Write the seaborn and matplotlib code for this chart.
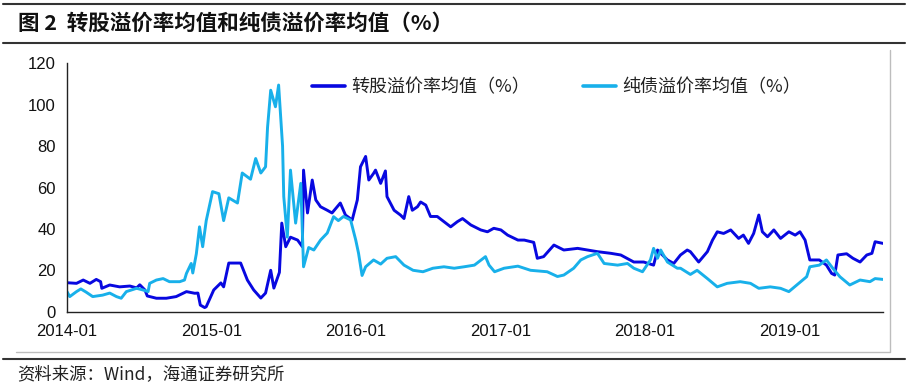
import matplotlib
matplotlib.use("Agg")
import matplotlib.pyplot as plt
import matplotlib.dates as mdates
from matplotlib.lines import Line2D
import seaborn as sns
import pandas as pd

# ---------------- data ----------------
cb_dates = [
    "2014-01-01", "2014-01-25", "2014-02-11", "2014-02-28", "2014-03-16", "2014-03-27", "2014-03-30",
    "2014-04-19", "2014-05-14", "2014-06-09", "2014-06-26", "2014-07-04", "2014-07-17", "2014-07-23",
    "2014-08-15", "2014-09-09", "2014-10-04", "2014-10-30", "2014-11-20", "2014-11-28", "2014-12-04",
    "2014-12-15", "2014-12-19", "2015-01-07", "2015-01-25", "2015-02-01", "2015-02-14", "2015-03-16",
    "2015-04-02", "2015-04-18", "2015-05-06", "2015-05-18", "2015-05-31", "2015-06-08", "2015-06-22",
    "2015-06-28", "2015-07-08", "2015-07-20", "2015-08-07", "2015-08-19", "2015-08-22", "2015-09-01",
    "2015-09-13", "2015-09-22", "2015-10-04", "2015-10-21", "2015-11-02", "2015-11-23", "2015-12-06",
    "2015-12-23", "2016-01-05", "2016-01-13", "2016-01-26", "2016-02-03", "2016-02-15", "2016-02-20",
    "2016-03-04", "2016-03-16", "2016-03-20", "2016-04-07", "2016-04-23", "2016-05-02", "2016-05-14",
    "2016-05-23", "2016-06-05", "2016-06-13", "2016-06-26", "2016-07-08", "2016-07-25", "2016-08-11",
    "2016-08-28", "2016-09-14", "2016-09-27", "2016-10-18", "2016-11-12", "2016-11-29", "2016-12-15",
    "2017-01-02", "2017-01-19", "2017-02-14", "2017-03-02", "2017-03-26", "2017-04-04", "2017-04-20",
    "2017-05-16", "2017-06-10", "2017-07-15", "2017-08-09", "2017-09-03", "2017-10-07", "2017-11-01",
    "2017-12-04", "2017-12-29", "2018-01-23", "2018-02-02", "2018-02-27", "2018-03-15", "2018-04-01",
    "2018-04-18", "2018-04-26", "2018-05-17", "2018-06-08", "2018-06-21", "2018-07-03", "2018-07-19",
    "2018-08-06", "2018-08-26", "2018-09-07", "2018-09-20", "2018-10-03", "2018-10-16", "2018-10-25",
    "2018-11-07", "2018-11-23", "2018-12-10", "2018-12-31", "2019-01-16", "2019-01-28", "2019-02-10",
    "2019-02-22", "2019-03-18", "2019-04-05", "2019-04-18", "2019-04-26", "2019-05-04", "2019-05-26",
    "2019-06-11", "2019-06-29", "2019-07-16", "2019-07-29", "2019-08-06", "2019-08-26",
]
cb_values = [
    14.0, 13.7, 15.3, 13.7, 15.6, 14.5, 11.3,
    12.9, 12.0, 12.4, 11.5, 13.0, 10.5, 7.6,
    6.5, 6.5, 7.3, 9.7, 8.9, 9.0, 3.2,
    2.0, 2.4, 10.5, 13.9, 12.0, 23.5, 23.5,
    15.3, 10.5, 6.6, 9.0, 20.0, 11.4, 19.0,
    42.8, 31.4, 36.0, 34.6, 31.4, 68.4, 47.7,
    63.6, 54.0, 50.7, 49.0, 47.7, 52.5, 46.7,
    44.3, 54.0, 70.0, 75.0, 63.6, 66.8, 68.4,
    62.0, 68.0, 55.6, 49.0, 46.7, 45.0, 55.6,
    49.0, 50.7, 53.0, 51.5, 46.0, 46.0, 43.5,
    41.0, 43.5, 45.0, 41.9, 39.5, 38.6, 40.3,
    39.5, 37.0, 34.6, 34.6, 33.5, 25.8, 26.6,
    32.2, 29.8, 30.6, 29.8, 29.0, 28.2, 27.4,
    24.0, 24.0, 22.5, 29.8, 25.0, 23.3, 27.4,
    29.8, 29.0, 24.0, 29.0, 34.6, 38.6, 37.8,
    39.5, 35.4, 37.0, 33.0, 37.8, 46.7, 38.6,
    36.2, 39.5, 35.4, 38.6, 37.0, 38.6, 34.6,
    25.0, 25.0, 22.5, 18.5, 17.7, 27.4, 28.0,
    25.8, 24.0, 27.4, 28.2, 33.8, 33.0,
]

bond_dates = [
    "2014-01-01", "2014-01-08", "2014-01-25", "2014-02-05", "2014-02-18", "2014-03-07", "2014-04-01",
    "2014-04-19", "2014-05-06", "2014-05-18", "2014-05-31", "2014-06-26", "2014-07-12", "2014-07-25",
    "2014-07-29", "2014-08-15", "2014-09-01", "2014-09-17", "2014-10-13", "2014-10-25", "2014-10-30",
    "2014-11-11", "2014-11-15", "2014-11-24", "2014-12-02", "2014-12-10", "2014-12-19", "2015-01-04",
    "2015-01-20", "2015-02-01", "2015-02-14", "2015-03-08", "2015-03-20", "2015-04-10", "2015-04-23",
    "2015-05-06", "2015-05-18", "2015-05-23", "2015-05-31", "2015-06-12", "2015-06-20", "2015-06-30",
    "2015-07-03", "2015-07-12", "2015-07-20", "2015-08-02", "2015-08-15", "2015-08-22", "2015-09-04",
    "2015-09-17", "2015-10-04", "2015-10-21", "2015-11-06", "2015-11-18", "2015-12-01", "2015-12-19",
    "2016-01-01", "2016-01-08", "2016-01-17", "2016-01-26", "2016-02-15", "2016-03-04", "2016-03-20",
    "2016-04-11", "2016-05-02", "2016-05-25", "2016-06-19", "2016-07-14", "2016-08-11", "2016-09-06",
    "2016-10-01", "2016-10-27", "2016-11-24", "2016-12-03", "2016-12-17", "2017-01-10", "2017-02-14",
    "2017-03-18", "2017-04-29", "2017-05-25", "2017-06-10", "2017-07-05", "2017-07-23", "2017-08-09",
    "2017-09-03", "2017-09-20", "2017-10-24", "2017-11-18", "2017-12-04", "2017-12-26", "2018-01-15",
    "2018-01-23", "2018-02-02", "2018-02-10", "2018-02-27", "2018-03-24", "2018-04-01", "2018-04-26",
    "2018-05-13", "2018-06-08", "2018-07-03", "2018-07-28", "2018-08-30", "2018-09-25", "2018-10-16",
    "2018-11-14", "2018-12-10", "2018-12-31", "2019-01-20", "2019-02-14", "2019-02-22", "2019-03-18",
    "2019-04-05", "2019-04-21", "2019-05-09", "2019-06-03", "2019-06-29", "2019-07-24", "2019-08-06",
    "2019-08-26",
]
bond_values = [
    9.7, 7.3, 9.7, 11.0, 9.5, 7.3, 8.0,
    9.0, 7.3, 6.5, 9.7, 11.3, 10.5, 9.7,
    13.7, 15.3, 16.0, 14.5, 14.5, 15.3, 18.5,
    23.3, 18.7, 28.0, 41.0, 31.4, 44.0, 58.0,
    57.0, 44.0, 55.0, 52.5, 67.0, 64.0, 74.0,
    67.0, 70.0, 89.0, 107.0, 99.0, 109.5, 80.0,
    55.6, 36.0, 68.4, 42.8, 62.0, 21.7, 31.0,
    29.8, 34.6, 38.0, 45.9, 44.0, 46.0, 44.3,
    34.6, 28.3, 17.5, 21.7, 25.0, 23.0, 25.8,
    26.6, 22.5, 20.0, 19.3, 21.0, 21.7, 21.0,
    21.7, 22.5, 26.6, 22.5, 19.3, 21.0, 22.0,
    20.0, 19.3, 17.0, 17.7, 21.0, 25.0, 26.6,
    28.2, 23.3, 22.5, 23.3, 21.0, 19.3, 25.0,
    30.6, 25.8, 29.8, 24.0, 21.0, 21.0, 18.0,
    20.0, 16.0, 12.0, 13.7, 14.5, 13.7, 11.3,
    12.0, 11.3, 9.7, 12.9, 16.9, 21.7, 22.5,
    25.0, 21.0, 16.9, 12.9, 15.3, 14.5, 16.0,
    15.6,
]

series_names = ["转股溢价率均值（%）", "纯债溢价率均值（%）"]
series_colors = ["#0808E0", "#18B0EA"]
x_ticks = ["2014-01-01", "2015-01-01", "2016-01-01", "2017-01-01", "2018-01-01", "2019-01-01"]
y_ticks = [0, 20, 40, 60, 80, 100, 120]
title_text = "图 2  转股溢价率均值和纯债溢价率均值（%）"
source_text = "资料来源：Wind，海通证券研究所"

# ---------------- build frame ----------------
df = pd.concat([
    pd.DataFrame({"date": pd.to_datetime(cb_dates), "value": cb_values, "series": series_names[0]}),
    pd.DataFrame({"date": pd.to_datetime(bond_dates), "value": bond_values, "series": series_names[1]}),
], ignore_index=True)

sns.set_style("white")
plt.rcParams["font.family"] = ["Liberation Sans", "Noto Sans CJK SC", "DejaVu Sans"]
cjk = ["Noto Sans CJK SC", "DejaVu Sans"]

W, H = 911, 389
fig = plt.figure(figsize=(W / 100, H / 100), dpi=100)
ax = fig.add_axes([67 / W, 1 - 311.7 / H, (883 - 67) / W, (311.7 - 63.3) / H])

sns.lineplot(data=df, x="date", y="value", hue="series", hue_order=series_names,
             palette=series_colors, linewidth=2.1, ax=ax, legend=False, estimator=None, sort=True)

ax.set_xlim(pd.Timestamp(cb_dates[0]), pd.Timestamp(cb_dates[-1]))
ax.set_ylim(0, 120)
ax.set_yticks(y_ticks)
ax.set_xticks(pd.to_datetime(x_ticks))
ax.xaxis.set_major_formatter(mdates.DateFormatter("%Y-%m"))
ax.set_xlabel("")
ax.set_ylabel("")
for s in ["top", "right"]:
    ax.spines[s].set_visible(False)
for s in ["left", "bottom"]:
    ax.spines[s].set_color("#222222")
    ax.spines[s].set_linewidth(1.0)
ax.tick_params(axis="both", which="major", direction="out", length=5, width=1,
               color="#222222", labelsize=12, labelcolor="#111111", pad=3)
ax.tick_params(axis="x", pad=4)
ax.grid(False)

handles = [Line2D([0], [0], color=c, lw=2.6) for c in series_colors]
leg = ax.legend(handles, series_names, ncol=2, frameon=False, loc="center left",
                bbox_to_anchor=(312 / W, 1 - 87 / H), bbox_transform=fig.transFigure,
                borderpad=0, borderaxespad=0, handlelength=1.85, handletextpad=0.35,
                columnspacing=2.9, prop={"family": cjk, "size": 13})
for t in leg.get_texts():
    t.set_color("#222222")

# title, rules and source
fig.text(18 / W, 1 - 23 / H, title_text, family=cjk, fontsize=15.5, fontweight="bold",
         va="center", ha="left", color="#111111")
fig.add_artist(Line2D([3 / W, 905 / W], [1 - 4 / H, 1 - 4 / H], color="#333333", lw=1.5))
fig.add_artist(Line2D([3 / W, 905 / W], [1 - 43 / H, 1 - 43 / H], color="#333333", lw=1.5))
fig.add_artist(Line2D([16 / W, 890 / W, 890 / W], [1 - 351.5 / H, 1 - 351.5 / H, 1 - 50 / H],
                      color="#BDBDBD", lw=1.0))
fig.add_artist(Line2D([3 / W, 905 / W], [1 - 359 / H, 1 - 359 / H], color="#333333", lw=1.5))
fig.text(17 / W, 1 - 374 / H, source_text, family=cjk, fontsize=12.5,
         va="center", ha="left", color="#222222")

fig.savefig("out.png", dpi=100)
